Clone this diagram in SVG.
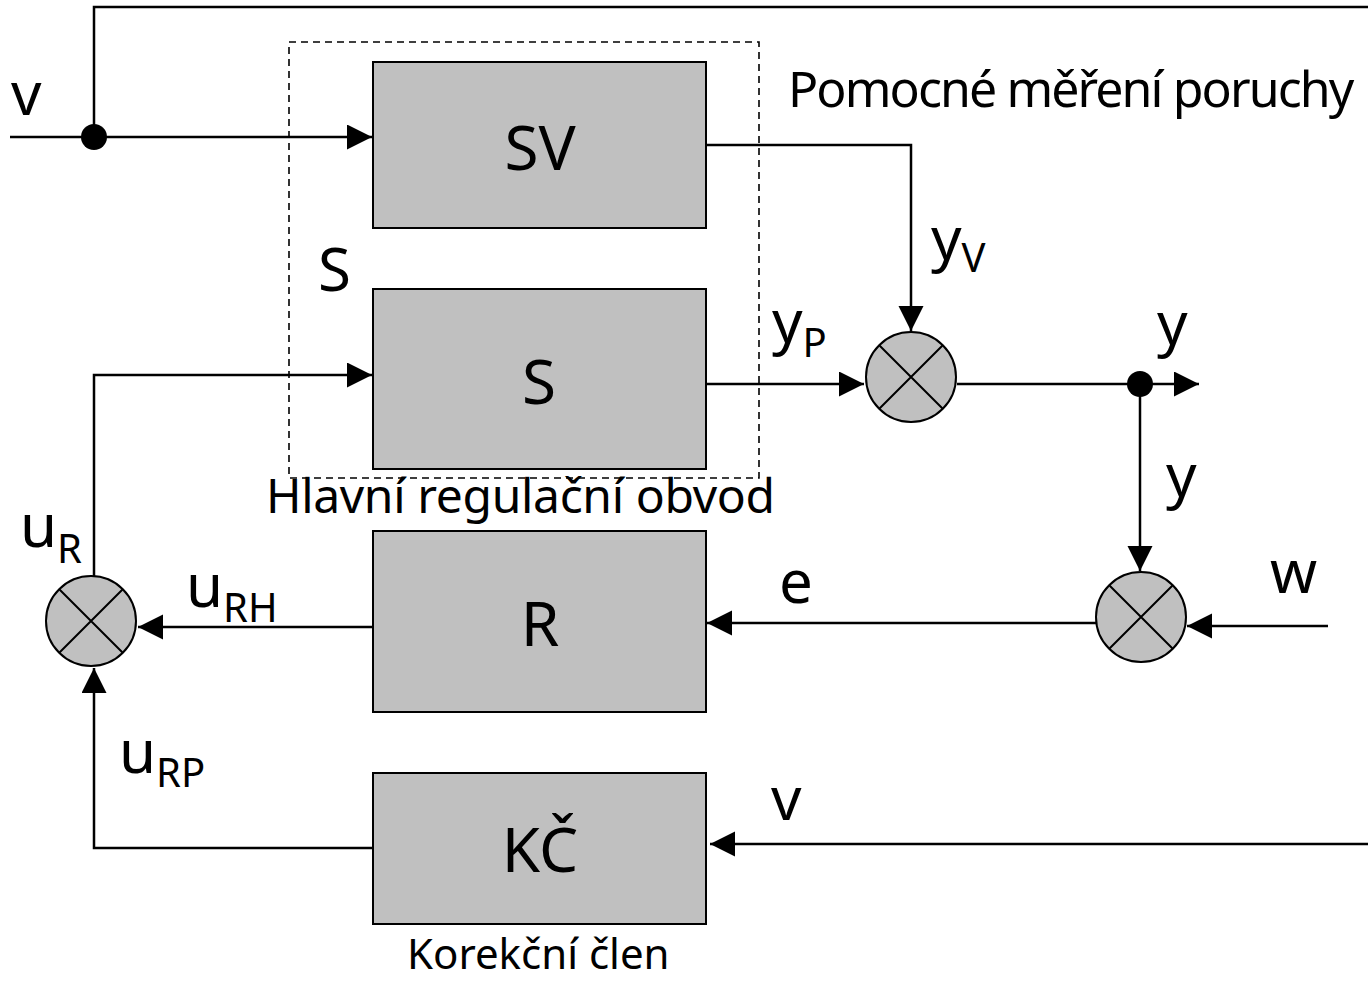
<svg xmlns="http://www.w3.org/2000/svg" width="1368" height="983" viewBox="0 0 1368 983">
<style>
.box{fill:#c0c0c0;stroke:#000;stroke-width:2}
.sum{fill:#c0c0c0;stroke:#000;stroke-width:2}
.x{stroke:#000;stroke-width:2}
.c{fill:none;stroke:#000;stroke-width:2.5}
.ca{fill:none;stroke:#000;stroke-width:2.5;marker-end:url(#arr)}
.t{font-family:"Noto Sans","Open Sans","DejaVu Sans",sans-serif;fill:#000}
.blk{font-size:62px;text-anchor:middle}
.lbl{font-size:60px}
.sub{font-size:40px}
</style>
<defs>
<marker id="arr" markerUnits="userSpaceOnUse" markerWidth="26" markerHeight="26" refX="25" refY="12.5" orient="auto">
<path d="M0,0 L25,12.5 L0,25 z" fill="#000"/>
</marker>
</defs>
<rect x="289" y="42" width="470" height="436" fill="none" stroke="#000" stroke-width="1.6" stroke-dasharray="7,5"/>
<g id="connectors">
<path class="ca" d="M10,137 H372"/>
<path class="c" d="M94,137 V7 H1368"/>
<path class="ca" d="M706,145 H911 V331"/>
<path class="ca" d="M702,384 H864"/>
<path class="ca" d="M957,384 H1199"/>
<path class="ca" d="M1140,384 V571"/>
<path class="ca" d="M1328,626 H1187"/>
<path class="ca" d="M1096,623 H707"/>
<path class="ca" d="M373,627 H138"/>
<path class="ca" d="M1368,844 H710"/>
<path class="ca" d="M373,848 H94 V668"/>
<path class="ca" d="M94,576 V375 H372"/>
<circle cx="94" cy="137" r="13" fill="#000"/>
<circle cx="1140" cy="384" r="13" fill="#000"/>
</g>
<g id="SV">
<rect class="box" x="373" y="62" width="333" height="166"/>
<text class="t blk" x="540" y="170">SV</text>
</g>
<g id="S">
<rect class="box" x="373" y="289" width="333" height="180"/>
<text class="t blk" x="539" y="404">S</text>
</g>
<g id="R">
<rect class="box" x="373" y="531" width="333" height="181"/>
<text class="t blk" x="540" y="646">R</text>
</g>
<g id="KC">
<rect class="box" x="373" y="773" width="333" height="151"/>
<text class="t blk" x="540" y="872">KČ</text>
</g>
<g id="sum1">
<circle class="sum" cx="911" cy="377" r="45"/>
<path class="x" d="M879,345 L943,409 M943,345 L879,409"/>
</g>
<g id="sum2">
<circle class="sum" cx="1141" cy="617" r="45"/>
<path class="x" d="M1109,585 L1173,649 M1173,585 L1109,649"/>
</g>
<g id="sum3">
<circle class="sum" cx="91" cy="621" r="45"/>
<path class="x" d="M59,589 L123,653 M123,589 L59,653"/>
</g>
<g id="labels">
<text class="t" x="788" y="107" font-size="50" letter-spacing="-1.9">Pomocné měření poruchy</text>
<text class="t" x="266" y="513" font-size="48" letter-spacing="-0.35">Hlavní regulační obvod</text>
<text class="t" x="407" y="969" font-size="42">Korekční člen</text>
<text class="t lbl" x="318" y="291">S</text>
<text class="t lbl" x="11" y="115">v</text>
<text class="t lbl" x="771" y="820">v</text>
<text class="t lbl" x="931" y="260">y<tspan class="sub" dy="12">V</tspan></text>
<text class="t lbl" x="772" y="343">y<tspan class="sub" dy="14">P</tspan></text>
<text class="t lbl" x="1157" y="345">y</text>
<text class="t lbl" x="1166" y="497">y</text>
<text class="t lbl" x="779" y="603">e</text>
<text class="t lbl" x="1270" y="593">w</text>
<text class="t lbl" x="20" y="547">u<tspan class="sub" dy="16">R</tspan></text>
<text class="t lbl" x="186" y="607">u<tspan class="sub" dy="15">RH</tspan></text>
<text class="t lbl" x="119" y="773">u<tspan class="sub" dy="14">RP</tspan></text>
</g>
</svg>
